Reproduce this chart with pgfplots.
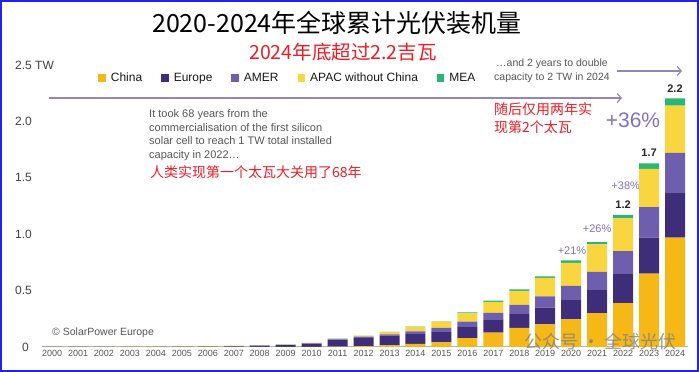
\documentclass[border=0pt]{standalone}
\usepackage{pgfplots}
\pgfplotsset{compat=1.18}
\usepackage{pgfplotstable}
\usepackage{fontspec}
\setmainfont{Liberation Sans}
\newfontfamily\cjk{Noto Sans CJK SC}
\usetikzlibrary{arrows.meta}
\definecolor{cChina}{HTML}{F5B816}
\definecolor{cEurope}{HTML}{3E2E7A}
\definecolor{cAMER}{HTML}{6E5FAE}
\definecolor{cAPAC}{HTML}{F9D63F}
\definecolor{cMEA}{HTML}{2BB673}
\definecolor{cRed}{HTML}{EE1C25}
\definecolor{cArrow}{HTML}{8E88BE}
\definecolor{cPct}{HTML}{7D72BF}
\definecolor{cGray}{HTML}{555555}
\definecolor{cFrame}{HTML}{2222EE}

\pgfplotstableread{
x China Europe AMER APAC MEA
0  0.0001 0.0001 0.0003 0.0007 0.0000
1  0.0001 0.0002 0.0003 0.0010 0.0000
2  0.0001 0.0003 0.0004 0.0013 0.0000
3  0.0001 0.0005 0.0005 0.0017 0.0000
4  0.0001 0.0012 0.0006 0.0020 0.0000
5  0.0001 0.0020 0.0007 0.0025 0.0000
6  0.0001 0.0035 0.0008 0.0025 0.0000
7  0.0002 0.0050 0.0010 0.0030 0.0001
8  0.0003 0.0110 0.0010 0.0030 0.0002
9  0.0005 0.0170 0.0015 0.0030 0.0003
10 0.0010 0.0300 0.0020 0.0030 0.0005
11 0.0030 0.0610 0.0040 0.0050 0.0010
12 0.0080 0.0770 0.0060 0.0090 0.0010
13 0.0150 0.0850 0.0130 0.0200 0.0010
14 0.0270 0.0880 0.0240 0.0400 0.0020
15 0.0420 0.0970 0.0300 0.0560 0.0030
16 0.0790 0.0970 0.0500 0.0710 0.0090
17 0.1270 0.1190 0.0560 0.0970 0.0120
18 0.1700 0.1280 0.0760 0.1240 0.0120
19 0.2000 0.1480 0.1000 0.1650 0.0120
20 0.2450 0.1770 0.1200 0.2040 0.0210
21 0.3000 0.2050 0.1620 0.2430 0.0200
22 0.3900 0.2550 0.2050 0.2900 0.0320
23 0.6500 0.3200 0.2700 0.3400 0.0470
24 0.9700 0.4000 0.3500 0.4200 0.0650
}\data

\begin{document}
\begin{tikzpicture}[x=1pt,y=1pt]
\begin{axis}[
  at={(41.7pt,25pt)}, anchor=south west,
  scale only axis, width=646.3pt, height=282pt,
  xmin=-0.4, xmax=24.5, ymin=0, ymax=2.5,
  ybar stacked, bar width=20pt,
  axis x line*=bottom, axis y line*=left,
  x axis line style={draw=black!30, line width=1pt, -},
  y axis line style={draw=none},
  xtick={0,...,24},
  xticklabels={2000,2001,2002,2003,2004,2005,2006,2007,2008,2009,2010,2011,2012,2013,2014,2015,2016,2017,2018,2019,2020,2021,2022,2023,2024},
  ytick={0,0.5,1,1.5,2,2.5},
  yticklabels={\hspace{7pt}0,0.5,1.0,1.5,2.0,2.5 TW},
  major tick length=0pt,
  /pgf/number format/assume math mode=true,
  xticklabel style={font=\fontsize{9}{10}\selectfont, text=cGray},
  yticklabel style={font=\fontsize{12}{13}\selectfont, text=black!75, anchor=west, xshift=-30pt},
  legend style={at={(0.381,0.954)}, anchor=center, draw=none, fill=none,
    font=\fontsize{12}{13}\selectfont, text=black!90, legend columns=-1,
    /tikz/every even column/.append style={column sep=17pt},
    /tikz/every odd column/.append style={column sep=3pt}},
  legend image code/.code={\fill[#1] (0pt,-3.75pt) rectangle (7.5pt,3.75pt);},
  clip=false,
]
\addplot[fill=cChina, draw=none] table[x=x,y=China]{\data};
\addplot[fill=cEurope, draw=none] table[x=x,y=Europe]{\data};
\addplot[fill=cAMER, draw=none] table[x=x,y=AMER]{\data};
\addplot[fill=cAPAC, draw=none] table[x=x,y=APAC]{\data};
\addplot[fill=cMEA, draw=none] table[x=x,y=MEA]{\data};
\legend{China,Europe,AMER,APAC without China,MEA}
\node[font=\bfseries\fontsize{11}{12}\selectfont, text=black!85] at (axis cs:24,2.29) {2.2};
\node[font=\bfseries\fontsize{11}{12}\selectfont, text=black!85] at (axis cs:23,1.72) {1.7};
\node[font=\bfseries\fontsize{11}{12}\selectfont, text=black!85] at (axis cs:22,1.26) {1.2};
\node[font=\fontsize{21}{22}\selectfont, text=cPct] at (axis cs:22.38,2.01) {+36\%};
\node[font=\fontsize{11}{12}\selectfont, text=cPct] at (axis cs:22.1,1.427) {+38\%};
\node[font=\fontsize{11}{12}\selectfont, text=cPct] at (axis cs:21.0,1.046) {+26\%};
\node[font=\fontsize{11}{12}\selectfont, text=cPct] at (axis cs:20.03,0.851) {+21\%};
\end{axis}
% titles
\node[font=\cjk\fontsize{25}{27}\selectfont, text=black] at (337,349) {2020-2024年全球累计光伏装机量};
\node[font=\cjk\fontsize{19.5}{21}\selectfont, text=cRed] at (343,320) {2024年底超过2.2吉瓦};
% arrows
\draw[cArrow, line width=1.2pt, -{Straight Barb[length=4pt,width=9pt]}] (49,274) -- (622,274);
\draw[cArrow, line width=1.2pt, -{Straight Barb[length=4pt,width=9pt]}] (617,301) -- (682,301);
% annotations
\begin{scope}[every node/.style={anchor=base west, inner sep=0pt, font=\fontsize{11}{12}\selectfont, text=cGray}]
\node at (149,254) {It took 68 years from the};
\node at (149,240.5) {commercialisation of the first silicon};
\node at (149,227) {solar cell to reach 1 TW total installed};
\node at (149,213.5) {capacity in 2022…};
\end{scope}
\begin{scope}[every node/.style={anchor=base west, inner sep=0pt, font=\fontsize{10.5}{12}\selectfont, text=cGray}]
\node at (496,305) {…and 2 years to double};
\node at (494,291) {capacity to 2 TW in 2024};
\node at (52,36.5) {© SolarPower Europe};
\end{scope}
\node[anchor=west, inner sep=0pt, font=\cjk\fontsize{14}{16}\selectfont, text=cRed] at (150,200.3) {人类实现第一个太瓦大关用了68年};
\node[anchor=west, inner sep=0pt, font=\cjk\fontsize{14}{16}\selectfont, text=cRed] at (494,263) {随后仅用两年实};
\node[anchor=west, inner sep=0pt, font=\cjk\fontsize{14}{16}\selectfont, text=cRed] at (494,245) {现第2个太瓦};
% watermark
\node[anchor=west, inner sep=0pt, font=\cjk\fontsize{18}{20}\selectfont, text=black!50, opacity=0.8] at (524,30) {公众号 · 全球光伏};
% frame
\draw[cFrame, line width=2pt] (1,1) rectangle (698,371);
\pgfresetboundingbox
\useasboundingbox (0,0) rectangle (699,372);
\end{tikzpicture}
\end{document}
